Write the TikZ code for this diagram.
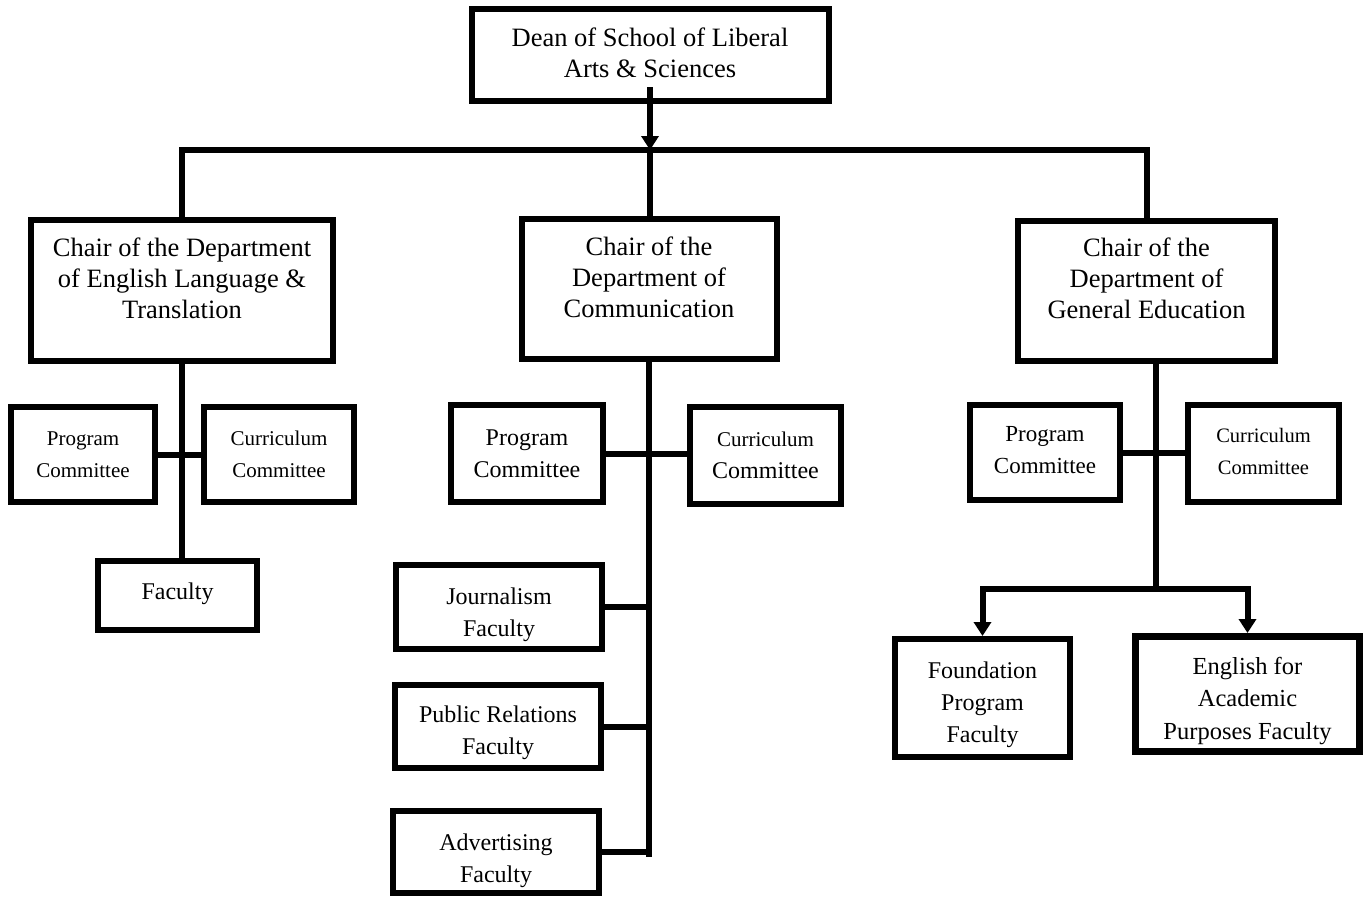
\documentclass[tikz,border=0pt]{standalone}
\usepackage{fontspec}
\setmainfont{Liberation Serif}
\usetikzlibrary{arrows.meta,calc}
% lines of a box, moved up (or down) by #1 without changing the box size
\newcommand\liftlines[2]{\raisebox{#1}[\height][\depth]{\begin{tabular}{@{}c@{}}#2\end{tabular}}}
\begin{document}
\begin{tikzpicture}[x=1pt,y=-1pt,
  box/.style={draw, line width=6pt, align=center, inner sep=0pt, fill=white},
  link/.style={line width=6pt},
  arrowlink/.style={line width=6pt, -{Triangle[length=14pt,width=17pt]}},
  big/.style={font=\fontsize{26.5}{31}\selectfont},
  mid/.style={font=\fontsize{24}{32}\selectfont},
  small/.style={font=\fontsize{21}{32}\selectfont}]
\useasboundingbox (0,0) rectangle (1370,898);

% Dean and department chairs
\node[box, big, minimum width=357pt, minimum height=92pt] (D) at (650,55)
  {\liftlines{-1pt}{Dean of School of Liberal\\Arts \& Sciences}};
\node[box, big, minimum width=302pt, minimum height=141pt] (L) at (182,290.5)
  {\liftlines{9pt}{Chair of the Department\\of English Language \&\\Translation}};
\node[box, big, minimum width=255pt, minimum height=140pt] (M) at (649,289)
  {\liftlines{9pt}{Chair of the\\Department of\\Communication}};
\node[box, big, minimum width=257pt, minimum height=140pt] (R) at (1146.5,291)
  {\liftlines{9.5pt}{Chair of the\\Department of\\General Education}};

% English Language & Translation
\node[box, small, minimum width=144pt, minimum height=95pt] (LP) at (83,454.5)
  {Program\\Committee};
\node[box, small, minimum width=150pt, minimum height=95pt] (LC) at (279,454.5)
  {Curriculum\\Committee};
\node[box, mid, minimum width=159pt, minimum height=69pt] (LF) at (177.5,595.5)
  {\liftlines{2pt}{Faculty}};

% Communication
\node[box, mid, minimum width=152pt, minimum height=97pt] (MP) at (527,453.5)
  {Program\\Committee};
\node[box, mid, minimum width=151pt, minimum height=97pt] (MC) at (765.5,455.5)
  {{\fontsize{21}{32}\selectfont Curriculum}\\Committee};
\node[box, mid, minimum width=206pt, minimum height=84pt] (J) at (499,607)
  {\liftlines{-7pt}{Journalism\\Faculty}};
\node[box, mid, minimum width=206pt, minimum height=83pt] (PR) at (498,726.5)
  {\liftlines{-6pt}{Public Relations\\Faculty}};
\node[box, mid, minimum width=206pt, minimum height=82pt] (AD) at (496,852)
  {\liftlines{-8pt}{Advertising\\Faculty}};

% General Education
\node[box, font=\fontsize{23}{32}\selectfont, minimum width=150pt, minimum height=95pt] (RP) at (1045,452.5)
  {\liftlines{1pt}{Program\\Committee}};
\node[box, font=\fontsize{20.5}{32}\selectfont, minimum width=151pt, minimum height=97pt] (RC) at (1263.5,453.5)
  {\liftlines{1pt}{Curriculum\\Committee}};
\node[box, mid, minimum width=175pt, minimum height=118pt] (F) at (982.5,698)
  {\liftlines{-6pt}{Foundation\\Program\\Faculty}};
\node[box, font=\fontsize{24.5}{32.5}\selectfont, line width=7pt, minimum width=224pt, minimum height=115pt] (E) at (1247.5,694)
  {\liftlines{-6pt}{English for\\Academic\\Purposes Faculty}};

% junction points
\coordinate (bus) at (650,150);
\coordinate (mend) at (649,857);
\coordinate (rj) at (1156,589);

% connectors
\draw[arrowlink] ($(D.south)+(0,-17)$) -- (bus);
\draw[link] (L.north) -- (L.north |- bus) -- (R.north |- bus) -- (R.north);
\draw[link] (bus) -- (bus |- M.north);

\draw[link] (L.south) -- (L.south |- LF.north);
\draw[link] (LP.east) -- (LP.east -| LC.west);

\draw[link] (M.south) -- (mend);
\draw[link] (MP.east) -- (MP.east -| MC.west);
\draw[link] (J.east) -- (J.east -| mend);
\draw[link] (PR.east) -- (PR.east -| mend);
\draw[link] (AD.east) -- (AD.east -| mend);

\draw[link] (RP.east) -- (RP.east -| RC.west);
\draw[arrowlink] (R.south -| rj) -- (rj) -| (F.north);
\draw[arrowlink] (rj) -| (E.north);
\end{tikzpicture}
\end{document}
